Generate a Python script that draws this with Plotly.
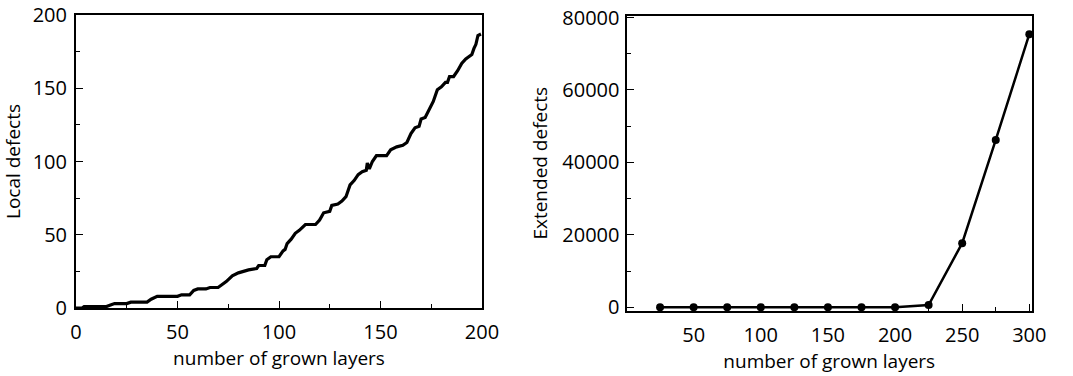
import plotly.graph_objects as go

# Left panel: local defects vs number of grown layers
local_layers = [0, 3, 4, 15, 17, 19, 25, 27, 35, 37, 40, 50, 52, 56, 58, 60, 64, 66, 70, 72,
                74, 77, 80, 85, 89, 90, 93, 94, 96, 100, 102, 103, 104, 106, 108, 110, 113, 118,
                120, 122, 125, 126, 129, 131, 133, 135, 137, 139, 141, 143, 143.5, 144.5, 146,
                148, 153, 155, 158, 161, 163, 165, 167, 169, 170, 172, 174, 176, 178, 180, 182,
                183, 184, 186, 188, 190, 192, 195, 196, 197, 198, 199.5]
local_defects = [0, 0, 1, 1, 2, 3, 3, 4, 4, 6, 8, 8, 9, 9, 12, 13, 13, 14, 14, 16,
                 18, 22, 24, 26, 27, 29, 29, 33, 35, 35, 39, 40, 44, 47, 51, 53, 57, 57,
                 60, 65, 66, 70, 71, 73, 76, 84, 87, 91, 93, 94, 99, 95, 100,
                 104, 104, 108, 110, 111, 113, 119, 123, 124, 129, 130, 135, 141, 149, 151, 154,
                 154, 158, 158, 162, 167, 170, 173, 177, 180, 186, 187]

# Right panel: extended defects
ext_layers = [25, 50, 75, 100, 125, 150, 175, 200, 225, 250, 275, 300]
ext_defects = [0, 0, 0, 0, 0, 0, 0, 0, 600, 17700, 46200, 75400]

left_xticks = [0, 50, 100, 150, 200]
left_yticks = [0, 50, 100, 150, 200]
right_xticks = [50, 100, 150, 200, 250, 300]
right_yticks = [0, 20000, 40000, 60000, 80000]

FONT = "Open Sans"
fig = go.Figure()
fig.add_trace(go.Scatter(x=local_layers, y=local_defects, mode="lines",
                         line=dict(color="black", width=3.2), xaxis="x", yaxis="y"))
fig.add_trace(go.Scatter(x=ext_layers, y=ext_defects, mode="lines+markers",
                         line=dict(color="black", width=2.5),
                         marker=dict(color="black", size=8),
                         xaxis="x2", yaxis="y2", cliponaxis=False))

W, H = 1073, 376
axis_common = dict(showline=True, linewidth=2, linecolor="black", mirror=True,
                   ticks="inside", ticklen=7, tickwidth=1, tickcolor="black",
                   showgrid=False, zeroline=False, automargin=False,
                   tickfont=dict(family=FONT, size=20, color="black"),
                   title_font=dict(family=FONT, size=19, color="black"))

fig.update_layout(
    width=W, height=H, margin=dict(l=0, r=0, t=0, b=0, autoexpand=False),
    paper_bgcolor="white", plot_bgcolor="white", showlegend=False,
    xaxis=dict(axis_common, domain=[76 / W, 482 / W], range=[0, 200],
               tickvals=left_xticks, anchor="y",
               minor=dict(dtick=25, ticks="inside", ticklen=4, tickcolor="black"),
               ticklabelstandoff=5,
               title=dict(text="number of grown layers", standoff=8)),
    yaxis=dict(axis_common, domain=[1 - 308 / H, 1 - 15 / H], range=[0, 200],
               tickvals=left_yticks, anchor="x",
               minor=dict(dtick=25, ticks="inside", ticklen=4, tickcolor="black"),
               ticklabelstandoff=3,
               title=dict(text="Local defects", standoff=12)),
    xaxis2=dict(axis_common, domain=[626.5 / W, 1032 / W], range=[0, 302],
                tickvals=right_xticks, anchor="y2",
                minor=dict(tickvals=[25, 75, 125, 175, 225, 275], ticks="inside",
                           ticklen=4, tickcolor="black"),
                ticklabelstandoff=5,
                title=dict(text="number of grown layers", standoff=8)),
    yaxis2=dict(axis_common, domain=[1 - 310.7 / H, 1 - 15.7 / H], range=[-950, 80500],
                tickvals=right_yticks, tickformat="d", anchor="x2",
                minor=dict(dtick=10000, ticks="inside", ticklen=4, tickcolor="black"),
                ticklabelstandoff=1,
                title=dict(text="Extended defects", standoff=10)),
)

fig.write_html("out.html")
